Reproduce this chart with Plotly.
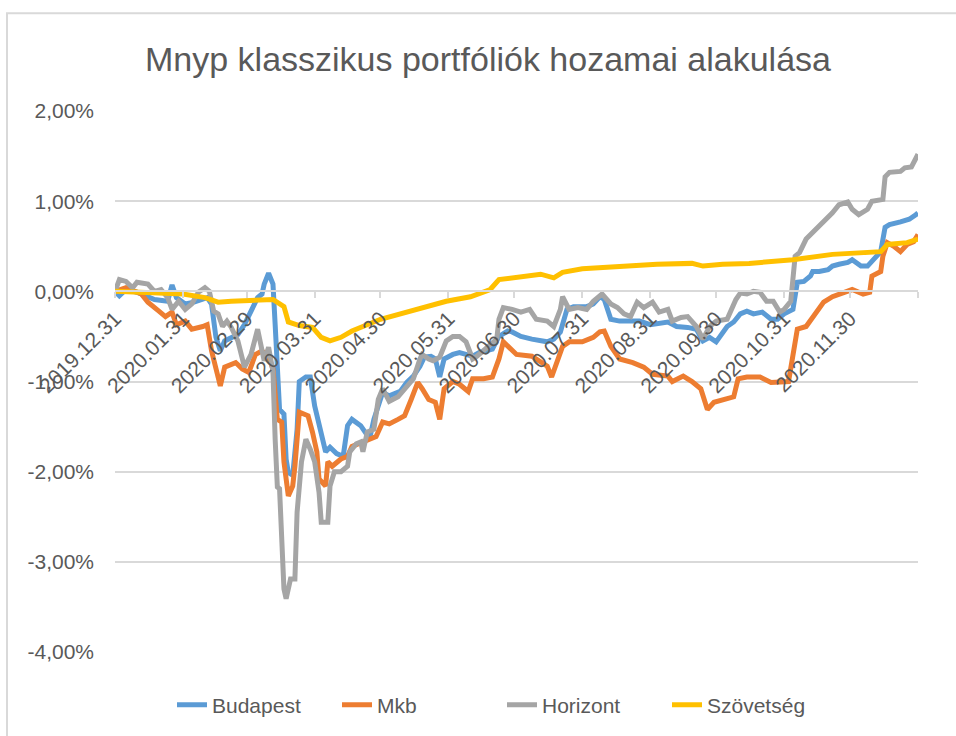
import plotly.graph_objects as go

# ---------------- data (values in %) ----------------
bud_dates = ["2019-12-31","2020-01-02","2020-01-05","2020-01-10","2020-01-18","2020-01-23","2020-01-24","2020-01-26","2020-01-28",
             "2020-02-01","2020-02-05","2020-02-11","2020-02-13","2020-02-15","2020-02-17","2020-02-19","2020-02-22","2020-02-25","2020-02-28",
             "2020-03-02","2020-03-05","2020-03-07","2020-03-08","2020-03-10","2020-03-12","2020-03-13","2020-03-14","2020-03-15","2020-03-17",
             "2020-03-18","2020-03-19","2020-03-21","2020-03-23","2020-03-24","2020-03-27","2020-03-29","2020-03-31",
             "2020-04-02","2020-04-05","2020-04-07","2020-04-10","2020-04-13","2020-04-15","2020-04-17","2020-04-21","2020-04-23","2020-04-25","2020-04-27","2020-04-29",
             "2020-05-01","2020-05-04","2020-05-09","2020-05-12","2020-05-15","2020-05-18","2020-05-20","2020-05-23","2020-05-25","2020-05-27","2020-05-29",
             "2020-06-02","2020-06-05","2020-06-08","2020-06-11","2020-06-14","2020-06-20","2020-06-23","2020-06-27","2020-06-29",
             "2020-07-03","2020-07-08","2020-07-15","2020-07-18","2020-07-21","2020-07-24","2020-07-27",
             "2020-08-02","2020-08-05","2020-08-08","2020-08-10","2020-08-13","2020-08-17","2020-08-26","2020-08-31",
             "2020-09-08","2020-09-12","2020-09-17","2020-09-21","2020-09-24","2020-09-27","2020-09-30",
             "2020-10-05","2020-10-08","2020-10-11","2020-10-14","2020-10-17","2020-10-21","2020-10-25","2020-10-28","2020-10-31",
             "2020-11-04","2020-11-06","2020-11-09","2020-11-12","2020-11-13","2020-11-16","2020-11-20","2020-11-22","2020-11-25","2020-11-29",
             "2020-12-01","2020-12-05","2020-12-08","2020-12-10","2020-12-14","2020-12-16","2020-12-18","2020-12-23","2020-12-27","2020-12-30","2020-12-31"]
bud_vals = [0.00,-0.05,0.02,-0.01,-0.09,-0.11,-0.11,0.07,-0.07,
            -0.14,-0.12,-0.07,-0.14,-0.51,-0.66,-0.55,-0.51,-0.48,-0.37,
            -0.22,-0.07,-0.03,0.08,0.20,0.08,-0.37,-0.97,-1.31,-1.36,
            -1.86,-2.01,-2.04,-1.53,-1.00,-0.95,-0.95,-1.27,
            -1.49,-1.78,-1.73,-1.80,-1.83,-1.49,-1.42,-1.49,-1.56,-1.64,-1.42,-1.27,
            -1.12,-1.16,-1.11,-1.01,-0.94,-0.83,-0.73,-0.72,-0.75,-0.95,-0.75,
            -0.70,-0.68,-0.70,-0.72,-0.68,-0.64,-0.50,-0.44,-0.45,
            -0.50,-0.53,-0.56,-0.53,-0.45,-0.20,-0.17,
            -0.17,-0.14,-0.06,-0.09,-0.31,-0.33,-0.33,-0.37,
            -0.34,-0.39,-0.40,-0.42,-0.55,-0.51,-0.56,
            -0.39,-0.34,-0.25,-0.22,-0.25,-0.23,-0.31,-0.31,-0.25,
            -0.20,0.10,0.11,0.17,0.22,0.22,0.24,0.28,0.30,0.32,
            0.35,0.28,0.28,0.33,0.44,0.71,0.74,0.77,0.80,0.85,0.87]

mkb_dates = ["2019-12-31","2020-01-05","2020-01-12","2020-01-15","2020-01-20","2020-01-23","2020-01-26","2020-01-28",
             "2020-02-01","2020-02-04","2020-02-09","2020-02-11","2020-02-13","2020-02-15","2020-02-17","2020-02-19","2020-02-24","2020-02-27",
             "2020-03-01","2020-03-04","2020-03-07","2020-03-10","2020-03-12","2020-03-14","2020-03-16","2020-03-17","2020-03-19","2020-03-21",
             "2020-03-22","2020-03-24","2020-03-28","2020-03-30",
             "2020-04-01","2020-04-02","2020-04-05","2020-04-06","2020-04-08","2020-04-12","2020-04-15","2020-04-17","2020-04-22","2020-04-25","2020-04-28",
             "2020-05-01","2020-05-04","2020-05-08","2020-05-11","2020-05-14","2020-05-17","2020-05-19","2020-05-22","2020-05-25","2020-05-27","2020-05-29",
             "2020-06-02","2020-06-05","2020-06-09","2020-06-11","2020-06-16","2020-06-20","2020-06-23","2020-06-25","2020-06-28",
             "2020-07-01","2020-07-08","2020-07-15","2020-07-17","2020-07-20","2020-07-22","2020-07-25","2020-07-31",
             "2020-08-05","2020-08-08","2020-08-10","2020-08-13","2020-08-17","2020-08-23","2020-08-28",
             "2020-09-01","2020-09-08","2020-09-10","2020-09-15","2020-09-19","2020-09-23","2020-09-26","2020-09-29",
             "2020-10-03","2020-10-08","2020-10-10","2020-10-14","2020-10-20","2020-10-25",
             "2020-11-02","2020-11-04","2020-11-06","2020-11-10","2020-11-13","2020-11-18","2020-11-22","2020-11-27",
             "2020-12-01","2020-12-06","2020-12-09","2020-12-10","2020-12-14","2020-12-15","2020-12-17","2020-12-20","2020-12-23","2020-12-26","2020-12-29","2020-12-31"]
mkb_vals = [0.00,0.04,-0.03,-0.12,-0.22,-0.28,-0.23,-0.37,
            -0.33,-0.42,-0.39,-0.37,-0.66,-0.84,-1.05,-0.84,-0.79,-0.86,
            -0.90,-0.70,-0.66,-0.73,-0.86,-1.42,-1.45,-1.89,-2.27,-2.16,
            -1.94,-1.34,-1.38,-1.56,
            -1.78,-2.08,-2.16,-1.89,-1.94,-1.86,-1.83,-1.72,-1.67,-1.64,-1.61,
            -1.45,-1.47,-1.42,-1.38,-1.20,-1.01,-1.08,-1.20,-1.23,-1.42,-1.08,
            -1.00,-1.03,-1.11,-0.97,-0.97,-0.95,-0.75,-0.56,-0.64,
            -0.70,-0.72,-0.83,-0.95,-0.75,-0.61,-0.56,-0.56,
            -0.51,-0.45,-0.44,-0.61,-0.75,-0.79,-0.84,
            -0.92,-0.94,-1.00,-0.94,-1.00,-1.08,-1.31,-1.23,
            -1.20,-1.17,-0.97,-0.95,-0.95,-1.01,
            -1.00,-0.72,-0.42,-0.39,-0.28,-0.12,-0.06,-0.01,
            0.02,-0.03,-0.01,0.17,0.22,0.39,0.54,0.50,0.44,0.52,0.55,0.63]

hor_dates = ["2019-12-31","2020-01-02","2020-01-05","2020-01-08","2020-01-10","2020-01-15","2020-01-18","2020-01-21","2020-01-24","2020-01-26","2020-01-29",
             "2020-02-01","2020-02-04","2020-02-07","2020-02-10","2020-02-12","2020-02-14","2020-02-16","2020-02-18","2020-02-20","2020-02-22","2020-02-25","2020-02-28",
             "2020-03-02","2020-03-05","2020-03-06","2020-03-08","2020-03-10","2020-03-12","2020-03-13","2020-03-14","2020-03-15","2020-03-16","2020-03-17","2020-03-18",
             "2020-03-20","2020-03-22","2020-03-23","2020-03-25","2020-03-27","2020-03-29","2020-03-31",
             "2020-04-02","2020-04-03","2020-04-06","2020-04-07","2020-04-09","2020-04-12","2020-04-15","2020-04-16","2020-04-19","2020-04-21","2020-04-22","2020-04-24","2020-04-27","2020-04-29",
             "2020-05-01","2020-05-04","2020-05-08","2020-05-12","2020-05-15","2020-05-18","2020-05-19","2020-05-22","2020-05-24","2020-05-27","2020-05-30",
             "2020-06-02","2020-06-05","2020-06-08","2020-06-10","2020-06-11","2020-06-13","2020-06-18","2020-06-22","2020-06-23","2020-06-25","2020-06-29",
             "2020-07-03","2020-07-07","2020-07-10","2020-07-15","2020-07-18","2020-07-21","2020-07-22","2020-07-25","2020-07-29",
             "2020-08-02","2020-08-05","2020-08-09","2020-08-13","2020-08-16","2020-08-19","2020-08-22","2020-08-25","2020-08-28",
             "2020-09-01","2020-09-04","2020-09-08","2020-09-10","2020-09-14","2020-09-17","2020-09-21","2020-09-24","2020-09-27","2020-09-30",
             "2020-10-05","2020-10-09","2020-10-11","2020-10-14","2020-10-17","2020-10-20","2020-10-23","2020-10-26","2020-10-29","2020-10-31",
             "2020-11-03","2020-11-05","2020-11-07","2020-11-10","2020-11-13","2020-11-16","2020-11-20","2020-11-22","2020-11-25","2020-11-29",
             "2020-12-01","2020-12-04","2020-12-08","2020-12-10","2020-12-15","2020-12-16","2020-12-18","2020-12-23","2020-12-25","2020-12-28","2020-12-31"]
hor_vals = [0.00,0.13,0.11,0.04,0.10,0.08,0.00,0.02,-0.07,-0.20,-0.11,
            -0.20,-0.14,-0.01,0.04,0.00,-0.22,-0.25,-0.39,-0.33,-0.40,-0.55,-0.84,
            -0.70,-0.42,-0.53,-0.77,-0.62,-0.89,-1.64,-2.17,-2.19,-2.63,-3.30,-3.41,
            -3.19,-3.19,-2.45,-1.89,-1.64,-1.75,-1.89,
            -2.23,-2.56,-2.56,-2.16,-2.00,-2.00,-1.94,-1.78,-1.69,-1.67,-1.78,-1.56,-1.53,-1.20,
            -1.08,-1.22,-1.17,-1.05,-0.97,-0.75,-0.70,-0.75,-0.77,-0.73,-0.55,
            -0.50,-0.50,-0.56,-0.68,-0.75,-0.72,-0.61,-0.53,-0.31,-0.18,-0.20,
            -0.23,-0.20,-0.31,-0.33,-0.39,-0.20,-0.06,-0.20,-0.18,
            -0.20,-0.11,-0.03,-0.14,-0.18,-0.25,-0.28,-0.12,-0.18,
            -0.12,-0.23,-0.20,-0.33,-0.29,-0.28,-0.39,-0.53,-0.39,-0.33,
            -0.31,-0.09,-0.02,-0.03,0.00,-0.01,-0.11,-0.11,-0.23,-0.20,
            -0.11,0.39,0.43,0.58,0.65,0.72,0.82,0.87,0.96,0.99,
            0.91,0.85,0.91,1.00,1.02,1.27,1.32,1.33,1.37,1.38,1.52]

szo_dates = ["2019-12-31","2020-01-13","2020-01-31","2020-02-10","2020-02-16","2020-02-22","2020-03-08","2020-03-12","2020-03-17","2020-03-19",
             "2020-03-24","2020-03-30","2020-04-03","2020-04-07","2020-04-12","2020-04-17","2020-04-30","2020-05-12","2020-05-30",
             "2020-06-10","2020-06-19","2020-06-23","2020-07-01","2020-07-12","2020-07-18","2020-07-22","2020-07-31","2020-08-18",
             "2020-09-03","2020-09-19","2020-09-24","2020-10-03","2020-10-15","2020-11-04","2020-11-22","2020-12-14","2020-12-17",
             "2020-12-26","2020-12-31"]
szo_vals = [0.00,-0.01,-0.03,-0.07,-0.12,-0.11,-0.09,-0.09,-0.17,-0.34,
            -0.38,-0.40,-0.51,-0.55,-0.51,-0.44,-0.31,-0.23,-0.11,
            -0.06,0.02,0.13,0.15,0.19,0.15,0.21,0.25,0.28,
            0.30,0.31,0.28,0.30,0.31,0.35,0.41,0.44,0.52,
            0.54,0.58]

tick_dates = ["2019-12-31","2020-01-31","2020-02-29","2020-03-31","2020-04-30","2020-05-31","2020-06-30",
              "2020-07-31","2020-08-31","2020-09-30","2020-10-31","2020-11-30","2020-12-31"]
tick_labels = ["2019.12.31","2020.01.31","2020.02.29","2020.03.31","2020.04.30","2020.05.31","2020.06.30",
               "2020.07.31","2020.08.31","2020.09.30","2020.10.31","2020.11.30",""]
y_ticks = [-4, -3, -2, -1, 0, 1, 2]
y_labels = ["-4,00%", "-3,00%", "-2,00%", "-1,00%", "0,00%", "1,00%", "2,00%"]

series = [
    ("Budapest", bud_dates, bud_vals, "#5B9BD5"),
    ("Mkb", mkb_dates, mkb_vals, "#ED7D31"),
    ("Horizont", hor_dates, hor_vals, "#A5A5A5"),
    ("Szövetség", szo_dates, szo_vals, "#FFC000"),
]

FONT = "Liberation Sans, Arial, sans-serif"
GREY = "#595959"
GRID = "#D9D9D9"

fig = go.Figure()
for name, d, v, c in series:
    fig.add_trace(go.Scatter(x=d, y=v, name=name, mode="lines",
                             line=dict(color=c, width=5, shape="linear")))

W, H = 956, 736
ML, MR, MT, MB = 115, 38, 111, 83
pw, ph = W - ML - MR, H - MT - MB

fig.update_layout(
    width=W, height=H,
    margin=dict(l=ML, r=MR, t=MT, b=MB),
    paper_bgcolor="white", plot_bgcolor="white",
    font=dict(family=FONT, color=GREY, size=21),
    title=dict(text="Mnyp klasszikus portfóliók hozamai alakulása",
               font=dict(family=FONT, size=34, color=GREY),
               xref="container", x=488 / W, xanchor="center",
               yref="container", y=1 - 59 / H, yanchor="middle"),
    showlegend=True,
    legend=dict(orientation="h", x=(502 - ML) / pw, xanchor="center",
                y=(H - MB - 705) / ph, yanchor="middle",
                font=dict(family=FONT, size=21, color=GREY),
                itemwidth=30, entrywidth=120, bgcolor="rgba(0,0,0,0)"),
    xaxis=dict(type="date", range=["2019-12-31", "2020-12-31"],
               tickvals=tick_dates, ticktext=tick_labels, tickangle=-45,
               showgrid=False, zeroline=False,
               showline=True, linecolor=GRID, linewidth=1.5,
               ticks="outside", ticklen=6, tickcolor=GRID, tickwidth=1.5,
               anchor="free", position=4 / 6,
               tickfont=dict(family=FONT, size=21, color=GREY)),
    yaxis=dict(range=[-4, 2], tickvals=y_ticks, ticktext=y_labels,
               showgrid=True, gridcolor=GRID, gridwidth=1.5, zeroline=False,
               showline=False, ticks="", ticklabelstandoff=20,
               tickfont=dict(family=FONT, size=21, color=GREY), domain=[0, 1]),
    shapes=[dict(type="rect", xref="paper", yref="paper",
                 x0=(7 - ML) / pw, x1=1.3, y0=-0.4, y1=(H - MB - 13) / ph,
                 line=dict(color=GRID, width=2), fillcolor="rgba(0,0,0,0)", layer="below")],
)

fig.write_html("out.html")
